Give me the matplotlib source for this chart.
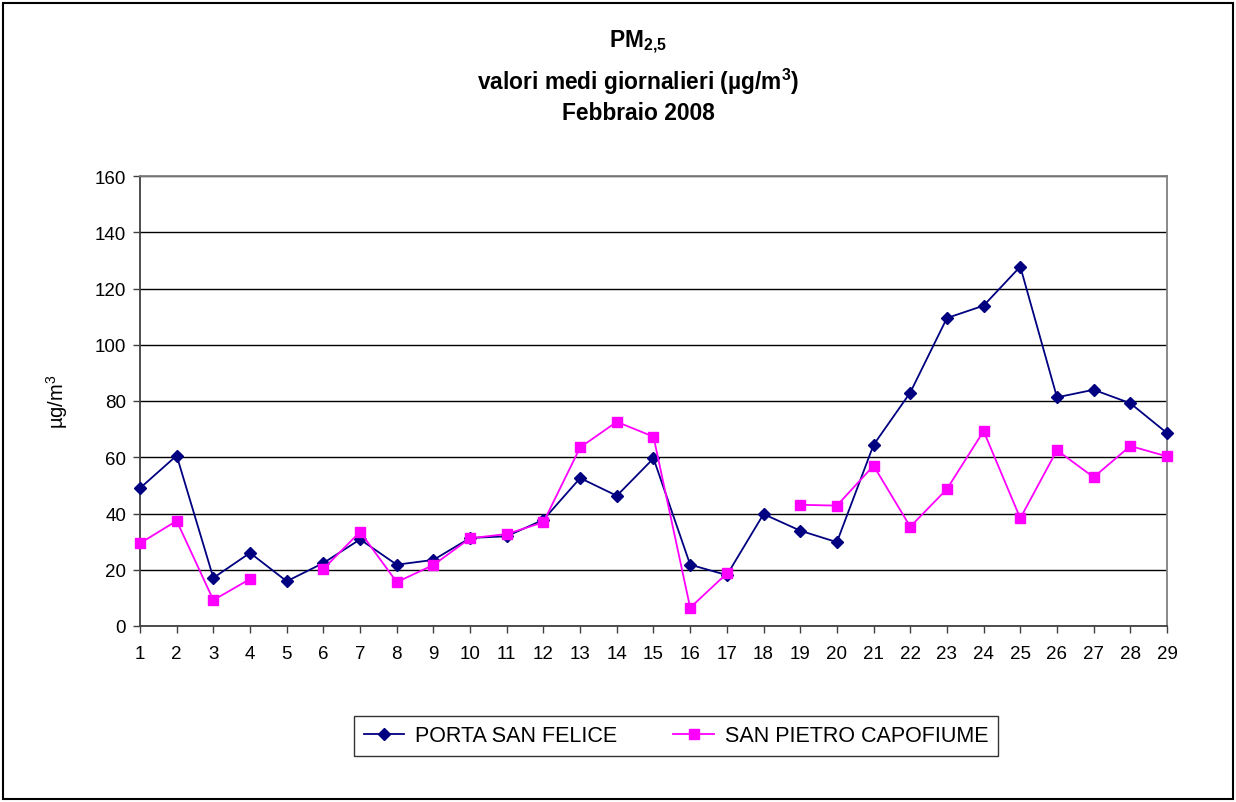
import numpy as np
import matplotlib.pyplot as plt
from matplotlib.patches import Rectangle

plt.rcParams['font.family'] = ['Liberation Sans', 'DejaVu Sans']
plt.rcParams['mathtext.fontset'] = 'custom'
plt.rcParams['mathtext.rm'] = 'Liberation Sans'
plt.rcParams['mathtext.bf'] = 'Liberation Sans:bold'

# daily averages, February 2008 (ug/m3)
days = list(range(1, 30))
porta_san_felice = [49.0, 60.6, 17.1, 26.0, 15.9, 22.4, 30.8, 21.8, 23.5, 31.3,
                    31.9, 37.8, 52.6, 46.3, 59.6, 21.8, 18.1, 39.8, 33.9, 29.8,
                    64.4, 83.0, 109.5, 113.9, 127.8, 81.3, 84.0, 79.2, 68.6]
# missing days are NaN (5 and 18)
san_pietro_capofiume = [29.4, 37.4, 9.2, 16.7, np.nan, 20.3, 33.5, 15.6, 21.7, 31.2,
                        32.7, 36.9, 63.5, 72.6, 67.3, 6.5, 18.7, np.nan, 43.1, 42.8,
                        57.0, 35.3, 48.7, 69.3, 38.3, 62.5, 52.9, 64.0, 60.3]

fig = plt.figure(figsize=(12.36, 8.03), dpi=100)
ax = fig.add_axes([140/1236, 1-627/803, (1167-140)/1236, (627-177)/803])

ax.plot(days, porta_san_felice, color='#000080', marker='D', markersize=6.5,
        linewidth=1.3, label='PORTA SAN FELICE', clip_on=False, zorder=3)
ax.plot(days, san_pietro_capofiume, color='#FF00FF', marker='s', markersize=7,
        linewidth=1.3, label='SAN PIETRO CAPOFIUME', clip_on=False, zorder=3)

ax.set_xlim(1, 29)
ax.set_ylim(0, 160)
ax.set_xticks(days)
ax.set_yticks(np.arange(0, 161, 20))
ax.tick_params(axis='both', direction='out', length=5, width=1, labelsize=13.5,
               color='#404040')
ax.tick_params(axis='x', pad=9)
ax.tick_params(axis='y', pad=5)
ax.grid(axis='y', color='black', linewidth=1)
ax.set_axisbelow(True)
for s in ['left', 'bottom']:
    ax.spines[s].set_color('#404040')
    ax.spines[s].set_linewidth(1.3)
for s in ['top', 'right']:
    ax.spines[s].set_color('#808080')
    ax.spines[s].set_linewidth(1.3)

ax.set_ylabel('µg/m$^3$', fontsize=14.5, labelpad=18)

tx = 638/1236
fig.text(tx, 1-42/803, 'PM$_{\\mathbf{2{,}5}}$', ha='center', va='center',
         fontsize=16.4, fontweight='bold')
fig.text(tx, 1-82/803, 'valori medi giornalieri (µg/m$^\\mathbf{3}$)', ha='center',
         va='center', fontsize=16.4, fontweight='bold')
fig.text(tx, 1-113/803, 'Febbraio 2008', ha='center', va='center',
         fontsize=16.4, fontweight='bold')

leg = fig.legend(loc='center', bbox_to_anchor=(676/1236, 1-737/803), ncol=2,
                 fontsize=15.5, frameon=True, fancybox=False, handlelength=1.9,
                 handletextpad=0.5, columnspacing=2.6, borderpad=0.45,
                 edgecolor='black')
leg.get_frame().set_linewidth(1)

fig.patches.append(Rectangle((3/1236, 3/803), 1-6/1236, 1-7/803, transform=fig.transFigure,
                             fill=False, edgecolor='black', linewidth=1.5))

fig.savefig('out.png', dpi=100)
